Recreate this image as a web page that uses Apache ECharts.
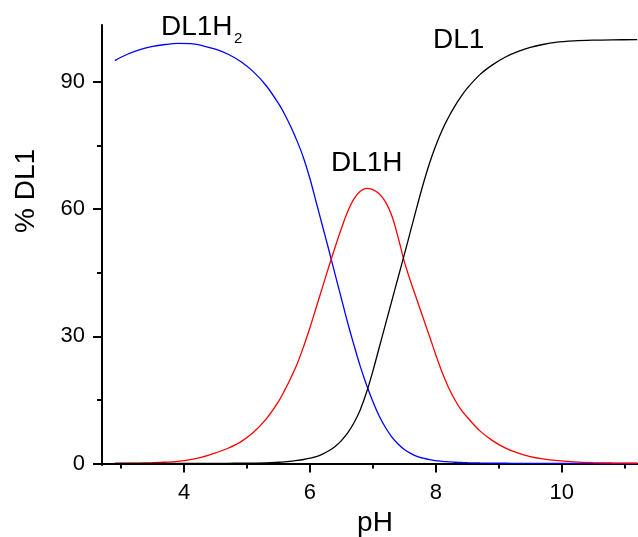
<!DOCTYPE html>
<html><head><meta charset="utf-8">
<script src="https://cdn.jsdelivr.net/npm/echarts@6/dist/echarts.min.js"></script>
<style>html,body{margin:0;padding:0;background:#fff}#c{width:638px;height:537px}</style>
</head><body><div id="c"></div>
<script>
const pH = [2.9,3.1,3.3,3.5,3.7,3.9,4.1,4.3,4.5,4.7,4.9,5.1,5.3,
  5.5,5.6,5.7,5.8,5.9,6.0,6.1,6.2,6.3,6.4,6.5,6.6,6.7,6.8,6.9,7.0,7.1,7.2,7.3,7.4,7.5,7.6,7.7,7.8,7.9,8.0,8.1,8.2,8.3,8.4,8.5,
  8.7,8.9,9.1,9.3,9.5,9.7,9.9,10.2,10.5,10.8,11.2];
const dl1h2 = [95.0,96.5,97.6,98.35,98.8,99.05,99.0,98.5,97.7,96.5,94.8,92.4,89.2,
  84.9,82.3,79.3,75.9,72.0,67.2,61.6,56.0,50.4,44.6,38.9,33.2,27.9,22.9,18.5,14.6,11.2,8.5,6.3,4.6,3.3,2.4,1.7,1.25,0.9,0.7,0.5,0.4,0.3,0.25,0.2,
  0.13,0.09,0.06,0.04,0.03,0.02,0.015,0.01,0.01,0.005,0];
const dl1h = [0.04,0.07,0.11,0.18,0.3,0.5,0.9,1.55,2.5,3.6,5.1,7.3,10.4,
  14.6,17.3,20.3,23.6,27.6,32.0,36.8,41.6,46.4,51.0,55.4,59.4,62.4,64.2,64.9,64.6,63.6,61.7,58.5,53.4,47.6,42.9,38.6,34.3,30.0,25.6,21.5,18.0,15.1,12.7,10.9,
  7.7,5.4,3.7,2.5,1.65,1.1,0.72,0.4,0.22,0.12,0.06];
const dl1 = [0,0,0,0,0,0,0.01,0.02,0.03,0.05,0.08,0.1,0.15,
  0.3,0.4,0.55,0.72,0.95,1.25,1.6,2.2,3.0,4.0,5.4,7.2,9.6,12.7,16.8,21.8,27.3,32.8,38.3,43.8,49.3,54.9,60.5,65.9,70.8,75.0,78.6,81.6,84.2,86.5,88.5,
  91.7,94.0,95.8,97.1,98.1,98.8,99.3,99.65,99.82,99.9,99.95];
const xMajorTicks = [4,6,8,10];
const xMinorTicks = [3,5,7,9,11];
const yMajorTicks = [0,30,60,90];
const yMinorTicks = [15,45,75];
const seriesNames = ['DL1H2','DL1H','DL1'];

const F = "'Liberation Sans', Arial, sans-serif";
const pairs = arr => pH.map((x,i)=>[x, arr[i]]);
const X_MIN = 2.697, X_MAX = 11.212, Y_MIN = -0.35, Y_MAX = 103.4;
const axisCol = '#000';

const chart = echarts.init(document.getElementById('c'), null, {renderer:'canvas'});
chart.setOption({
  animation:false,
  backgroundColor:'#fff',
  grid:{left:102, right:0, top:25, bottom:72, containLabel:false, outerBoundsMode:'none'},
  xAxis:[
    {type:'value', min:X_MIN, max:X_MAX, position:'bottom',
     axisLine:{show:true, lineStyle:{color:axisCol, width:2}},
     axisTick:{show:true, customValues:xMajorTicks, length:9, lineStyle:{color:axisCol, width:2}},
     axisLabel:{show:true, customValues:xMajorTicks, fontSize:22, fontFamily:F, color:'#000', margin:17},
     splitLine:{show:false},
     name:'pH', nameLocation:'middle', nameGap:36,
     nameTextStyle:{fontSize:28, fontFamily:F, color:'#000', padding:[0,0,0,10]}},
    {type:'value', min:X_MIN, max:X_MAX, position:'bottom',
     axisLine:{show:false},
     axisTick:{show:true, customValues:xMinorTicks, length:5, lineStyle:{color:axisCol, width:2}},
     axisLabel:{show:false}, splitLine:{show:false}}
  ],
  yAxis:[
    {type:'value', min:Y_MIN, max:Y_MAX, position:'left',
     axisLine:{show:true, lineStyle:{color:axisCol, width:2}},
     axisTick:{show:true, customValues:yMajorTicks, length:9, lineStyle:{color:axisCol, width:2}},
     axisLabel:{show:true, customValues:yMajorTicks, fontSize:22, fontFamily:F, color:'#000', margin:17},
     splitLine:{show:false}},
    {type:'value', min:Y_MIN, max:Y_MAX, position:'left',
     axisLine:{show:false},
     axisTick:{show:true, customValues:yMinorTicks, length:5, lineStyle:{color:axisCol, width:2}},
     axisLabel:{show:false}, splitLine:{show:false}}
  ],
  series:[
    {name:seriesNames[0], type:'line', data:pairs(dl1h2), smooth:0.35, showSymbol:false, clip:true,
     lineStyle:{color:'#0000ff', width:1.3}},
    {name:seriesNames[1], type:'line', data:pairs(dl1h), smooth:0.35, showSymbol:false, clip:true,
     lineStyle:{color:'#ff0000', width:1.3}},
    {name:seriesNames[2], type:'line', data:pairs(dl1), smooth:0.35, showSymbol:false, clip:true,
     lineStyle:{color:'#000000', width:1.3}}
  ],
  graphic:[
    {type:'text', left:161, top:13, z:100,
     style:{text:'DL1H', font:'28px '+F, fill:'#000'}},
    {type:'text', left:234, top:31, z:100,
     style:{text:'2', font:'15px '+F, fill:'#000'}},
    {type:'text', left:331, top:149, z:100,
     style:{text:'DL1H', font:'28px '+F, fill:'#000'}},
    {type:'text', left:433, top:26, z:100,
     style:{text:'DL1', font:'28px '+F, fill:'#000'}},
    {type:'text', x:26, y:191, rotation:Math.PI/2, z:100,
     style:{text:'% DL1', font:'28px '+F, fill:'#000', align:'center', verticalAlign:'middle', textAlign:'center', textVerticalAlign:'middle'}}
  ]
});
</script></body></html>
